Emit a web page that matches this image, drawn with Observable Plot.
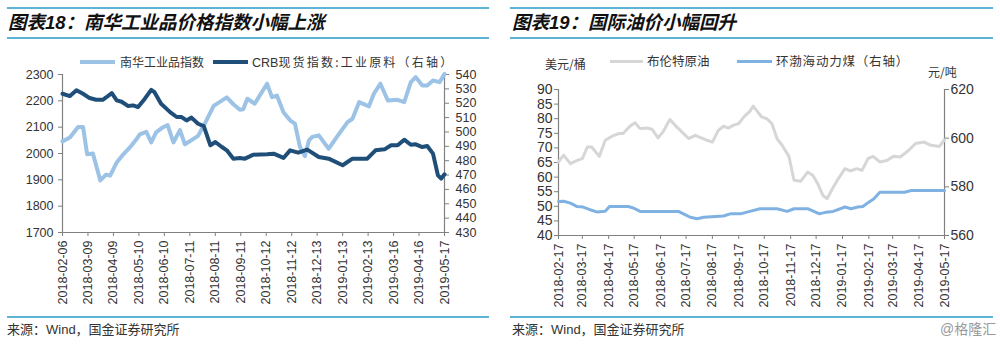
<!DOCTYPE html>
<html><head><meta charset="utf-8">
<script src="https://cdn.jsdelivr.net/npm/d3@7"></script>
<script src="https://cdn.jsdelivr.net/npm/@observablehq/plot@0.6"></script>
<style>
body{margin:0;width:1000px;height:344px;position:relative;background:#fff;overflow:hidden;font-family:"Liberation Sans",Arial,"Noto Sans CJK SC",sans-serif}
.rule{position:absolute;height:2px;background:#5cb3d4}
.title{position:absolute;font-family:"Liberation Sans","Noto Sans CJK SC",sans-serif;font-weight:bold;font-style:italic;font-size:18.5px;line-height:20px;color:#111;white-space:nowrap}
.leg{position:absolute;font-family:"Noto Sans CJK SC",sans-serif;font-size:12px;line-height:14px;color:#333;white-space:nowrap}
.sw{position:absolute}
.src{position:absolute;font-family:"Liberation Sans","Noto Sans CJK SC",sans-serif;font-size:13px;line-height:16px;color:#333;white-space:nowrap}
.chart{position:absolute}
</style></head>
<body>
<div class="rule" style="left:7px;top:7px;width:482px"></div>
<div class="title" style="left:8px;top:13px">图表18：南华工业品价格指数小幅上涨</div>
<div class="rule" style="left:7px;top:37px;width:482px"></div>
<div class="sw" style="left:80px;top:60px;width:35px;height:4px;background:#9cc3e6"></div>
<div class="leg" style="left:120px;top:55px">南华工业品指数</div>
<div class="sw" style="left:213px;top:60px;width:35px;height:4px;background:#1f4e79"></div>
<div class="leg" style="left:252px;top:55px"><span style="font-family:'Liberation Sans',Arial,sans-serif;font-size:12.5px">CRB</span><span style="letter-spacing:2.2px">现货指数:工业原料（右轴）</span></div>
<div class="chart" id="c1" style="left:0;top:66px"></div>
<div class="rule" style="left:7px;top:316px;width:482px"></div>
<div class="src" style="left:7px;top:322px">来源：Wind，国金证券研究所</div>

<div class="rule" style="left:510px;top:7px;width:483px"></div>
<div class="title" style="left:512px;top:13px">图表19：国际油价小幅回升</div>
<div class="rule" style="left:510px;top:37px;width:483px"></div>
<div class="leg" style="left:545px;top:57px">美元/桶</div>
<div class="sw" style="left:610px;top:60px;width:33px;height:3px;background:#d6d6d6"></div>
<div class="leg" style="left:647px;top:54px;font-size:12.5px">布伦特原油</div>
<div class="sw" style="left:737px;top:60px;width:35px;height:3px;background:#7fb2e3"></div>
<div class="leg" style="left:776px;top:54px;font-size:12.5px;letter-spacing:0.8px">环渤海动力煤（右轴）</div>
<div class="leg" style="left:928px;top:65px">元/吨</div>
<div class="chart" id="c2" style="left:500px;top:81px"></div>
<div class="rule" style="left:510px;top:316px;width:483px"></div>
<div class="src" style="left:512px;top:322px">来源：Wind，国金证券研究所</div>
<div class="src" style="left:940px;top:321px;color:#999;font-size:14px">@格隆汇</div>

<script>
// ---------- Chart 18 data ----------
const nanhuaDates = ["2018-02-06","2018-02-15","2018-02-25","2018-03-03","2018-03-08","2018-03-15","2018-03-24","2018-03-31","2018-04-05","2018-04-13","2018-04-21","2018-04-29","2018-05-07","2018-05-11","2018-05-19","2018-05-25","2018-05-31","2018-06-08","2018-06-14","2018-06-21","2018-06-29","2018-07-05","2018-07-13","2018-07-21","2018-07-30","2018-08-09","2018-08-25","2018-09-02","2018-09-10","2018-09-14","2018-09-19","2018-09-28","2018-10-13","2018-10-19","2018-10-25","2018-11-02","2018-11-10","2018-11-16","2018-11-22","2018-11-28","2018-12-03","2018-12-07","2018-12-15","2018-12-27","2019-01-06","2019-01-19","2019-01-25","2019-02-02","2019-02-14","2019-02-20","2019-02-28","2019-03-09","2019-03-21","2019-03-29","2019-04-06","2019-04-12","2019-04-20","2019-04-26","2019-05-03","2019-05-11","2019-05-17"];
const nanhuaValues = [2046,2061,2101,2101,1997,2000,1898,1920,1916,1966,1997,2023,2054,2073,2082,2042,2080,2099,2108,2042,2089,2035,2051,2067,2118,2181,2213,2187,2166,2168,2208,2189,2265,2214,2220,2157,2126,2113,2025,1990,2050,2063,2069,2018,2063,2119,2132,2195,2179,2227,2265,2201,2204,2195,2271,2290,2258,2258,2277,2271,2302];

const crbDates = ["2018-02-06","2018-02-15","2018-02-23","2018-03-03","2018-03-11","2018-03-19","2018-03-27","2018-03-31","2018-04-07","2018-04-13","2018-04-19","2018-04-27","2018-05-03","2018-05-09","2018-05-17","2018-05-25","2018-05-29","2018-06-06","2018-06-17","2018-06-25","2018-07-01","2018-07-07","2018-07-13","2018-07-21","2018-07-28","2018-08-05","2018-08-11","2018-08-19","2018-08-25","2018-09-02","2018-09-10","2018-09-16","2018-09-22","2018-09-26","2018-10-13","2018-10-21","2018-11-02","2018-11-10","2018-11-20","2018-12-01","2018-12-15","2018-12-27","2019-01-13","2019-01-25","2019-02-12","2019-02-22","2019-03-05","2019-03-13","2019-03-21","2019-03-29","2019-04-06","2019-04-12","2019-04-20","2019-04-26","2019-05-03","2019-05-09","2019-05-13","2019-05-17"];
const crbValues = [526.6,525,529,526.6,523.6,522.4,522.4,524,527,522,521,518,518.5,517.3,523,529.3,527.7,519.6,513.8,510.4,510.4,508,510,505.7,504,490.7,493,489.5,487.2,481.4,481.9,481.4,483,484.2,484.4,484.9,481.9,487.2,485.6,487.7,482.6,481.4,476.8,481.4,481.4,487.2,487.9,490.7,490.7,494.6,491.1,491.4,489.5,490.2,484.9,469.8,467.5,470.5];

const chart18XTicks = ["2018-02-06","2018-03-09","2018-04-09","2018-05-10","2018-06-10","2018-07-11","2018-08-11","2018-09-11","2018-10-12","2018-11-12","2018-12-13","2019-01-13","2019-02-13","2019-03-16","2019-04-16","2019-05-17"];
const chart18LeftTicks = [1700,1800,1900,2000,2100,2200,2300];
const chart18RightTicks = [430,440,450,460,470,480,490,500,510,520,530,540];

// ---------- Chart 19 data ----------
const brentDates = ["2018-02-17","2018-02-23","2018-03-03","2018-03-11","2018-03-17","2018-03-23","2018-03-28","2018-04-06","2018-04-13","2018-04-21","2018-04-29","2018-05-04","2018-05-12","2018-05-18","2018-05-24","2018-06-01","2018-06-07","2018-06-14","2018-06-20","2018-06-28","2018-07-06","2018-07-12","2018-07-20","2018-07-28","2018-08-03","2018-08-09","2018-08-17","2018-08-24","2018-08-30","2018-09-05","2018-09-11","2018-09-17","2018-09-23","2018-09-30","2018-10-04","2018-10-14","2018-10-20","2018-10-26","2018-11-01","2018-11-07","2018-11-15","2018-11-21","2018-11-29","2018-12-07","2018-12-13","2018-12-19","2018-12-25","2018-12-30","2019-01-04","2019-01-12","2019-01-20","2019-01-26","2019-02-03","2019-02-09","2019-02-16","2019-02-22","2019-03-02","2019-03-10","2019-03-18","2019-03-26","2019-04-05","2019-04-13","2019-04-23","2019-05-01","2019-05-11","2019-05-17"];
const brentValues = [65.2,67.5,64.6,65.7,66.3,70.3,70.3,67.1,72.6,74,74.9,74.9,77.4,78.6,76.6,76.8,76.4,73.4,75.5,79.7,77.2,75.5,73.2,74.3,73.5,72.8,72,76,77.4,76.8,77.8,78.3,80.6,82.5,84.3,80.6,80,78.3,73.2,70.9,67.1,58.9,58.6,61.7,60.6,57.7,53.7,52.6,55.4,59.4,62.9,62.1,62.9,62.3,66.3,67.1,65.2,65.7,67.1,66.9,69.2,71.5,72,70.9,70.5,72.8];

const coalDates = ["2018-02-17","2018-02-23","2018-03-03","2018-03-11","2018-03-18","2018-03-26","2018-04-03","2018-04-13","2018-04-18","2018-05-10","2018-05-16","2018-05-24","2018-07-08","2018-07-14","2018-07-22","2018-07-30","2018-08-07","2018-08-30","2018-09-07","2018-09-19","2018-09-30","2018-10-12","2018-11-01","2018-11-13","2018-11-21","2018-12-07","2018-12-21","2018-12-29","2019-01-06","2019-01-20","2019-01-27","2019-02-04","2019-02-10","2019-02-17","2019-02-23","2019-03-02","2019-03-31","2019-04-08","2019-05-17"];
const coalValues = [574,574.1,573.3,571.9,571.7,570.6,569.7,570,571.9,571.9,571.3,569.9,569.9,568.9,567.5,566.9,567.5,568,568.9,568.9,569.9,571,571,569.9,571,571,568.9,569.6,569.9,571.7,571,571.7,571.9,573.7,575.1,577.8,577.8,578.5,578.5];

const chart19XTicks = ["2018-02-17","2018-03-17","2018-04-17","2018-05-17","2018-06-17","2018-07-17","2018-08-17","2018-09-17","2018-10-17","2018-11-17","2018-12-17","2019-01-17","2019-02-17","2019-03-17","2019-04-17","2019-05-17"];
const chart19LeftTicks = [40,45,50,55,60,65,70,75,80,85,90];
const chart19RightTicks = [560,580,600,620];

// ---------- helpers ----------
const parse = d3.utcParse("%Y-%m-%d");
const fmt = d3.utcFormat("%Y-%m-%d");
const zip = (ds, vs) => ds.map((d, i) => ({date: parse(d), value: vs[i]}));
const AXIS = "#808080";

function dualChart({el, leftTicks, rightTicks, xTicks, left, right, leftColor, rightColor, lw, rw, margins, height, yFont}) {
  const [l0, l1] = [leftTicks[0], leftTicks[leftTicks.length - 1]];
  const [r0, r1] = [rightTicks[0], rightTicks[rightTicks.length - 1]];
  const toL = v => l0 + (v - r0) * (l1 - l0) / (r1 - r0);
  const fromL = v => r0 + (v - l0) * (r1 - r0) / (l1 - l0);
  const xDom = [parse(xTicks[0]), parse(xTicks[xTicks.length - 1])];
  const plot = Plot.plot({
    width: 500, height, ...margins,
    style: {fontFamily: "'Liberation Sans', Arial, sans-serif", fontSize: "12.5px", color: "#333", background: "transparent", overflow: "visible"},
    x: {type: "utc", domain: xDom},
    y: {domain: [l0, l1]},
    marks: [
      Plot.axisY({ticks: leftTicks, tickFormat: v => String(v), tickSize: 4, tickPadding: yFont.padL, stroke: AXIS, fill: "#333", fontSize: yFont.size, label: null}),
      Plot.axisY({anchor: "right", ticks: rightTicks.map(toL), tickFormat: v => String(Math.round(fromL(v))), tickSize: 4, tickPadding: yFont.padR, stroke: AXIS, fill: "#333", fontSize: yFont.size, label: null}),
      Plot.axisX({ticks: xTicks.map(parse), tickFormat: fmt, tickRotate: -90, tickSize: 4, tickPadding: 4, stroke: AXIS, fill: "#333", label: null}),
      Plot.ruleX([xDom[0], xDom[1]], {stroke: AXIS, strokeWidth: 1.2}),
      Plot.ruleY([l0], {stroke: AXIS, strokeWidth: 1.2}),
      Plot.line(left, {x: "date", y: "value", stroke: leftColor, strokeWidth: lw, strokeLinejoin: "round", strokeLinecap: "round"}),
      Plot.line(right, {x: "date", y: d => toL(d.value), stroke: rightColor, strokeWidth: rw, strokeLinejoin: "round", strokeLinecap: "round"})
    ]
  });
  document.getElementById(el).appendChild(plot);
}

dualChart({
  el: "c1", leftTicks: chart18LeftTicks, rightTicks: chart18RightTicks, xTicks: chart18XTicks,
  left: zip(nanhuaDates, nanhuaValues), right: zip(crbDates, crbValues),
  leftColor: "#9cc3e6", rightColor: "#1f4e79", lw: 4, rw: 4,
  margins: {marginTop: 8, marginBottom: 78, marginLeft: 62, marginRight: 56}, height: 244,
  yFont: {size: 12.5, padL: 5, padR: 7}
});
dualChart({
  el: "c2", leftTicks: chart19LeftTicks, rightTicks: chart19RightTicks, xTicks: chart19XTicks,
  left: zip(brentDates, brentValues), right: zip(coalDates, coalValues),
  leftColor: "#d6d6d6", rightColor: "#7fb2e3", lw: 3, rw: 3,
  margins: {marginTop: 8, marginBottom: 75, marginLeft: 58, marginRight: 56}, height: 229,
  yFont: {size: 14, padL: 2, padR: 2}
});
</script>
</body></html>
